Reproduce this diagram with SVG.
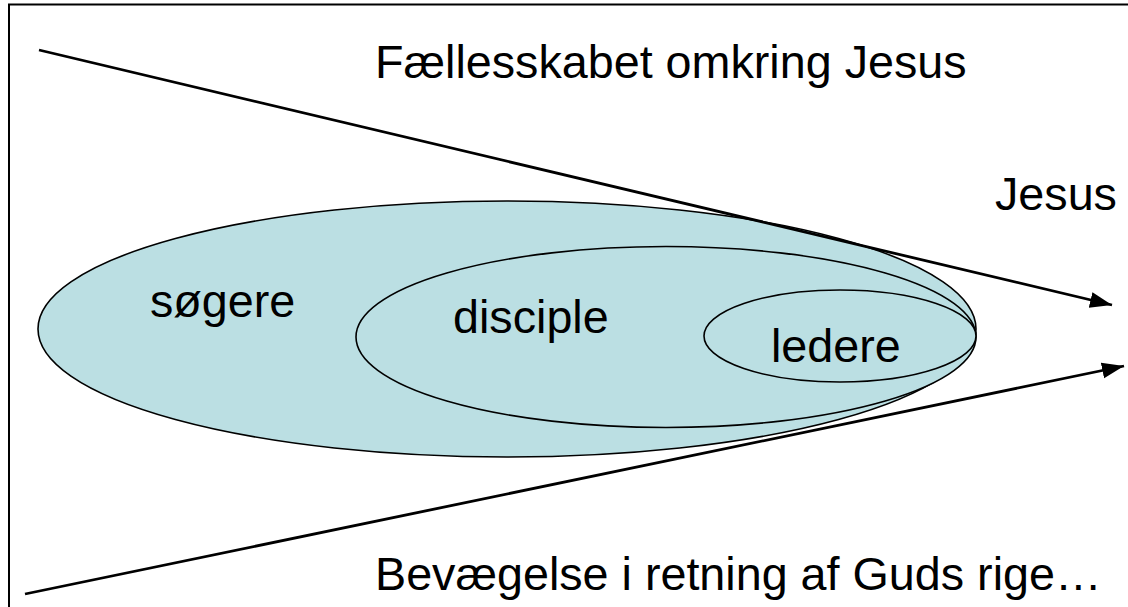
<svg xmlns="http://www.w3.org/2000/svg" width="1128" height="607" viewBox="0 0 1128 607">
  <style>
    .lbl { font-family: "Liberation Sans", Arial, sans-serif; font-size: 46.7px; fill: #000; }
    .oval { fill: #BBDFE3; stroke: #000; stroke-width: 1.6; }
    .conn { stroke: #000; stroke-width: 2.8; fill: none; }
  </style>
  <defs>
    <marker id="arrow" markerUnits="userSpaceOnUse" markerWidth="24" markerHeight="18" refX="22" refY="8" orient="auto">
      <polygon points="0,0 22,8 0,16" fill="#000"/>
    </marker>
  </defs>
  <rect x="0" y="0" width="1128" height="607" fill="#fff"/>
  <path d="M9,607 V4.5 H1128" fill="none" stroke="#000" stroke-width="2"/>

  <g id="sogere">
    <ellipse class="oval" cx="507" cy="329" rx="469" ry="128"/>
    <text class="lbl" x="150" y="317">søgere</text>
  </g>
  <g id="disciple">
    <ellipse class="oval" cx="666" cy="337" rx="310" ry="90.5"/>
    <text class="lbl" x="453" y="333">disciple</text>
  </g>
  <g id="ledere">
    <ellipse class="oval" cx="840" cy="336" rx="136" ry="46"/>
    <text class="lbl" x="771" y="362">ledere</text>
  </g>

  <g id="connectors">
    <line class="conn" x1="39" y1="50" x2="1112" y2="305" marker-end="url(#arrow)"/>
    <line class="conn" x1="25" y1="594" x2="1124" y2="366" marker-end="url(#arrow)"/>
  </g>

  <g id="labels">
    <text class="lbl" x="375" y="78">Fællesskabet omkring Jesus</text>
    <text class="lbl" x="995" y="210">Jesus</text>
    <text class="lbl" x="375" y="590">Bevægelse i retning af Guds rige…</text>
  </g>
</svg>
